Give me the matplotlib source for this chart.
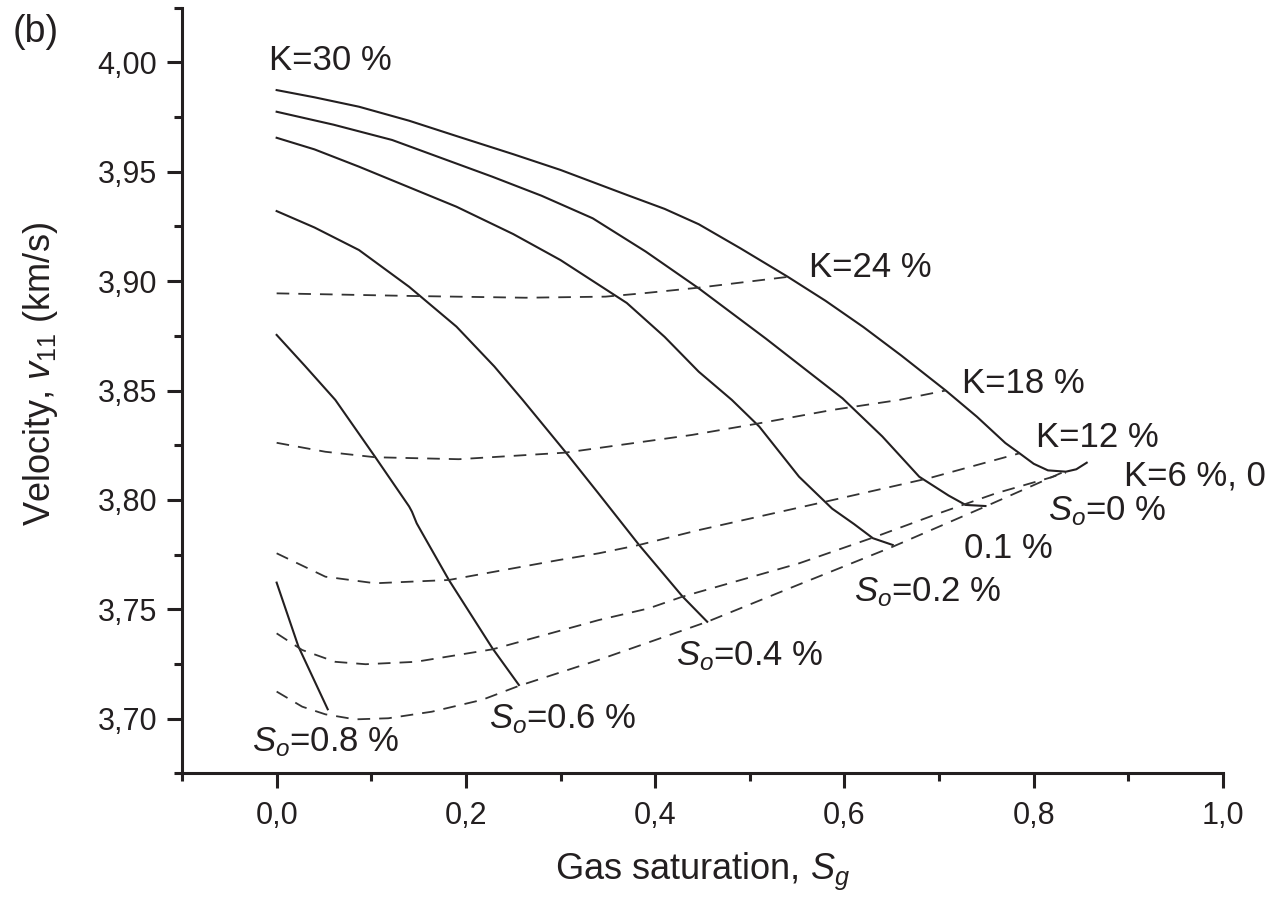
import matplotlib
matplotlib.use("Agg")
import matplotlib.pyplot as plt
from matplotlib.ticker import MultipleLocator

plt.rcParams['font.family'] = ['Liberation Sans', 'DejaVu Sans']
plt.rcParams['mathtext.fontset'] = 'custom'
plt.rcParams['mathtext.rm'] = 'Liberation Sans'
plt.rcParams['mathtext.it'] = 'Liberation Sans:italic'

# solid curves: constant oil saturation So
so0_x = [0, 0.04, 0.087, 0.14, 0.19, 0.25, 0.30, 0.37, 0.41, 0.446, 0.49, 0.54, 0.58, 0.62, 0.66,
         0.707, 0.74, 0.77, 0.785, 0.80, 0.815, 0.834, 0.845, 0.856]
so0_y = [3.9873, 3.9840, 3.9797, 3.9733, 3.9663, 3.958, 3.9508, 3.9394, 3.933, 3.926, 3.915, 3.902,
         3.891, 3.879, 3.866, 3.850, 3.838, 3.826, 3.8213, 3.8165, 3.8135, 3.8129, 3.8140, 3.817]
so01_x = [0, 0.06, 0.122, 0.228, 0.28, 0.334, 0.39, 0.446, 0.517, 0.598, 0.64, 0.679, 0.71, 0.728, 0.749]
so01_y = [3.9774, 3.9715, 3.9645, 3.9477, 3.939, 3.9287, 3.9135, 3.8967, 3.8737, 3.8464, 3.829,
          3.8106, 3.802, 3.7977, 3.7972]
so02_x = [0, 0.04, 0.087, 0.19, 0.25, 0.30, 0.37, 0.41, 0.446, 0.481, 0.51, 0.552, 0.587, 0.61, 0.63, 0.651]
so02_y = [3.9655, 3.9602, 3.9523, 3.934, 3.9215, 3.9096, 3.890, 3.8745, 3.8586, 3.8457, 3.8335, 3.8106,
          3.796, 3.789, 3.7825, 3.7794]
so04_x = [0, 0.04, 0.087, 0.14, 0.19, 0.23, 0.26, 0.305, 0.34, 0.383, 0.429, 0.455]
so04_y = [3.932, 3.9245, 3.9142, 3.8974, 3.8792, 3.861, 3.8457, 3.822, 3.803, 3.7794, 3.7558, 3.7443]
so06_x = [0, 0.03, 0.062, 0.104, 0.140, 0.143, 0.148, 0.154, 0.182, 0.228, 0.256]
so06_y = [3.8754, 3.8612, 3.8457, 3.8197, 3.797, 3.7946, 3.7893, 3.7847, 3.7634, 3.7322, 3.7154]
so08_x = [0, 0.023, 0.054]
so08_y = [3.7622, 3.733, 3.7043]

# dashed curves: constant K
k24_x = [0, 0.143, 0.263, 0.3475, 0.3865, 0.446, 0.5415]
k24_y = [3.8944, 3.8932, 3.8924, 3.8929, 3.8944, 3.897, 3.902]
k18_x = [0, 0.0515, 0.104, 0.1925, 0.305, 0.439, 0.506, 0.587, 0.658, 0.707]
k18_y = [3.8261, 3.822, 3.8195, 3.8186, 3.8216, 3.8297, 3.8347, 3.8411, 3.8457, 3.850]
k12_x = [0, 0.0515, 0.104, 0.182, 0.298, 0.3405, 0.383, 0.446, 0.58, 0.69, 0.785]
k12_y = [3.7756, 3.7649, 3.7619, 3.7634, 3.7725, 3.7756, 3.7794, 3.7862, 3.7992, 3.810, 3.8213]
k6_x = [0, 0.027, 0.062, 0.094, 0.147, 0.228, 0.3405, 0.393, 0.429, 0.552, 0.633, 0.70, 0.76, 0.816, 0.834]
k6_y = [3.739, 3.7314, 3.726, 3.7249, 3.726, 3.7317, 3.7451, 3.7504, 3.7558, 3.771, 3.7832, 3.7939,
        3.803, 3.810, 3.8125]
k0_x = [0, 0.027, 0.0515, 0.083, 0.118, 0.164, 0.217, 0.256, 0.3405, 0.455, 0.55, 0.651, 0.70, 0.749, 0.83]
k0_y = [3.7124, 3.7055, 3.702, 3.6997, 3.7002, 3.7032, 3.7086, 3.715, 3.7269, 3.7443, 3.761, 3.7786,
        3.7878, 3.797, 3.8125]

x_ticks = [0.0, 0.2, 0.4, 0.6, 0.8, 1.0]
x_ticklabels = ['0,0', '0,2', '0,4', '0,6', '0,8', '1,0']
y_ticks = [3.70, 3.75, 3.80, 3.85, 3.90, 3.95, 4.00]
y_ticklabels = ['3,70', '3,75', '3,80', '3,85', '3,90', '3,95', '4,00']

ink = '#231f20'

fig = plt.figure(figsize=(12.7, 9.01), dpi=100)
ax = fig.add_axes([182/1270, 1 - 773.4/901, (1223 - 182)/1270, (773.4 - 7.6)/901])

for xs, ys in [(so0_x, so0_y), (so01_x, so01_y), (so02_x, so02_y),
               (so04_x, so04_y), (so06_x, so06_y), (so08_x, so08_y)]:
    ax.plot(xs, ys, color=ink, lw=1.5, solid_joinstyle='round')

for xs, ys in [(k24_x, k24_y), (k18_x, k18_y), (k12_x, k12_y), (k6_x, k6_y), (k0_x, k0_y)]:
    ax.plot(xs, ys, color='#333333', lw=1.3, dashes=(7, 5))

ax.set_xlim(-0.1, 1.0)
ax.set_ylim(3.675, 4.025)
ax.spines['top'].set_visible(False)
ax.spines['right'].set_visible(False)
for s in ['left', 'bottom']:
    ax.spines[s].set_linewidth(2.2)
    ax.spines[s].set_color(ink)

ax.set_xticks(x_ticks)
ax.set_xticklabels(x_ticklabels)
ax.set_yticks(y_ticks)
ax.set_yticklabels(y_ticklabels)
ax.xaxis.set_minor_locator(MultipleLocator(0.1))
ax.yaxis.set_minor_locator(MultipleLocator(0.025))
ax.tick_params(which='major', direction='out', length=11, width=2.2, color=ink,
               labelsize=22, labelcolor=ink)
ax.tick_params(which='minor', direction='out', length=6, width=2.2, color=ink)
ax.tick_params(axis='x', which='major', pad=9)
ax.tick_params(axis='y', which='major', pad=7)

ax.set_xlabel('Gas saturation, $S_g$', fontsize=26, color=ink, labelpad=14)
ax.set_ylabel('Velocity, $v_{\\mathrm{11}}$ (km/s)', fontsize=26, color=ink)
ax.yaxis.set_label_coords(-0.117, 0.522)

fs = 25
labels = [
    (-0.0085, 3.9965, 'K=30 %'),
    (0.5627, 3.9019, 'K=24 %'),
    (0.7245, 3.8489, 'K=18 %'),
    (0.8024, 3.8243, 'K=12 %'),
    (0.8958, 3.8068, 'K=6 %, 0'),
    (0.8147, 3.7908, '$S_o$=0 %'),
    (0.7266, 3.7733, '0.1 %'),
    (0.6103, 3.7535, '$S_o$=0.2 %'),
    (0.4216, 3.7245, '$S_o$=0.4 %'),
    (0.2242, 3.6956, '$S_o$=0.6 %'),
    (-0.0261, 3.6849, '$S_o$=0.8 %'),
]
for x, y, t in labels:
    ax.text(x, y, t, fontsize=fs, color=ink, ha='left', va='baseline', clip_on=False)

fig.text(13/1270, 1 - 14/901, '(b)', fontsize=27, color=ink, ha='left', va='top')

fig.savefig('out.png', dpi=100)
